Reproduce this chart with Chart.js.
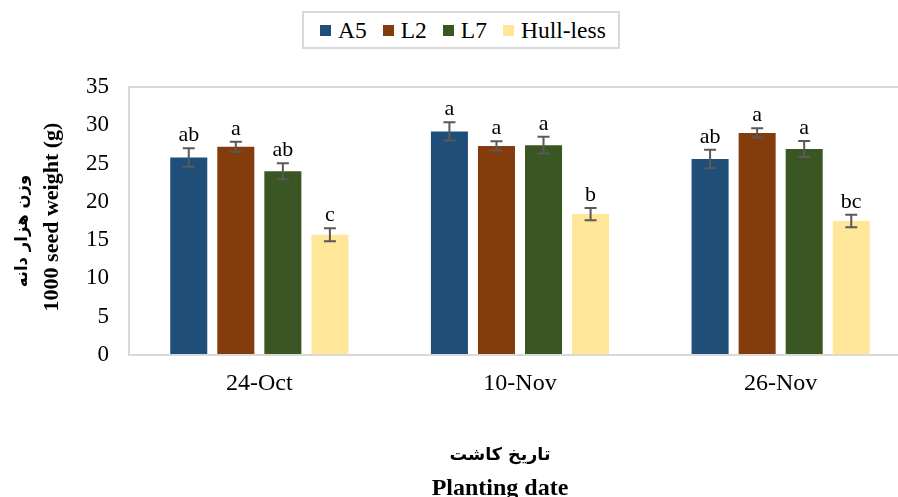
<!DOCTYPE html>
<html>
<head>
<meta charset="utf-8">
<script src="https://cdn.jsdelivr.net/npm/chart.js@4.4.1/dist/chart.umd.min.js"></script>
<style>
  html, body { margin: 0; padding: 0; background: #fff; overflow: hidden; }
  #wrap { position: relative; width: 898px; height: 497px; overflow: hidden; }
  canvas { display: block; }
  #legend {
    position: absolute; left: 302px; top: 11px; height: 38px; width: 318px;
    box-sizing: border-box; border: 2px solid #d9d9d9; background: #fff;
    display: flex; align-items: center; padding-left: 16px; white-space: nowrap;
    font-family: 'Liberation Serif', 'Times New Roman', serif; font-size: 23.5px; color: #000;
  }
  #legend .item { display: flex; align-items: center; margin-right: 16px; }
  #legend .item:last-child { margin-right: 0; }
  #legend .swatch { width: 11px; height: 11px; margin-right: 7px; flex: none; }
</style>
</head>
<body>
<div id="wrap">
  <canvas id="seedChart" width="911" height="497"></canvas>
  <div id="legend"></div>
</div>
<script>
// planting dates and 1000-seed weight (g) per cultivar
const categories = ['24-Oct', '10-Nov', '26-Nov'];
const yTicks = [0, 5, 10, 15, 20, 25, 30, 35];

const a5 = [25.8, 29.2, 25.6];
const l2 = [27.2, 27.3, 29.0];
const l7 = [24.0, 27.4, 26.9];
const hullLess = [15.7, 18.4, 17.5];

// standard errors
const a5Err = [1.2, 1.2, 1.2];
const l2Err = [0.65, 0.6, 0.6];
const l7Err = [1.05, 1.1, 1.05];
const hullLessErr = [0.85, 0.8, 0.8];

// mean comparison letters
const a5Letters = ['ab', 'a', 'ab'];
const l2Letters = ['a', 'a', 'a'];
const l7Letters = ['ab', 'a', 'a'];
const hullLessLetters = ['c', 'b', 'bc'];

const serif = "'Liberation Serif', 'Times New Roman', serif";

const series = [
    { label: 'A5', data: a5, err: a5Err, letters: a5Letters, color: '#1F4E79' },
    { label: 'L2', data: l2, err: l2Err, letters: l2Letters, color: '#843C0C' },
    { label: 'L7', data: l7, err: l7Err, letters: l7Letters, color: '#3A5623' },
    { label: 'Hull-less', data: hullLess, err: hullLessErr, letters: hullLessLetters, color: '#FFE699' }
];

// error bars and letters over each bar
const errorBars = {
    id: 'errorBars',
    afterDatasetsDraw(chart) {
        const ctx = chart.ctx;
        const y = chart.scales.y;
        ctx.save();
        chart.data.datasets.forEach((ds, i) => {
            const meta = chart.getDatasetMeta(i);
            meta.data.forEach((bar, j) => {
                const v = ds.data[j];
                const e = ds.err[j];
                const top = y.getPixelForValue(v + e);
                const bottom = y.getPixelForValue(v - e);
                ctx.strokeStyle = '#595959';
                ctx.lineWidth = 2;
                ctx.beginPath();
                ctx.moveTo(bar.x, top);
                ctx.lineTo(bar.x, bottom);
                ctx.moveTo(bar.x - 6, top);
                ctx.lineTo(bar.x + 6, top);
                ctx.moveTo(bar.x - 6, bottom);
                ctx.lineTo(bar.x + 6, bottom);
                ctx.stroke();

                ctx.fillStyle = '#000';
                ctx.font = '22px ' + serif;
                ctx.textAlign = 'center';
                ctx.textBaseline = 'alphabetic';
                ctx.fillText(ds.letters[j], bar.x, top - 7);
            });
        });
        ctx.restore();
    }
};

// two-line axis titles (Persian / English)
const axisTitles = {
    id: 'axisTitles',
    afterDraw(chart) {
        const ctx = chart.ctx;
        ctx.save();
        ctx.fillStyle = '#000';
        ctx.textAlign = 'center';
        ctx.textBaseline = 'middle';

        ctx.font = "bold 17.5px 'DejaVu Sans', sans-serif";
        ctx.fillText('تاریخ کاشت', 500, 455);
        ctx.font = 'bold 24px ' + serif;
        ctx.fillText('Planting date', 500, 489);

        ctx.translate(23, 231);
        ctx.rotate(-Math.PI / 2);
        ctx.font = "bold 16.5px 'DejaVu Sans', sans-serif";
        ctx.fillText('وزن هزار دانه', 0, 0);
        ctx.restore();

        ctx.save();
        ctx.fillStyle = '#000';
        ctx.textAlign = 'center';
        ctx.textBaseline = 'middle';
        ctx.translate(52, 217);
        ctx.rotate(-Math.PI / 2);
        ctx.font = 'bold 22px ' + serif;
        ctx.fillText('1000 seed weight (g)', 0, 0);
        ctx.restore();
    }
};

const chart = new Chart(document.getElementById('seedChart'), {
    type: 'bar',
    data: {
        labels: categories,
        datasets: series.map(s => ({
            label: s.label,
            data: s.data,
            err: s.err,
            letters: s.letters,
            backgroundColor: s.color,
            borderWidth: 0,
            categoryPercentage: 0.722,
            barPercentage: 0.787
        }))
    },
    options: {
        responsive: false,
        animation: false,
        layout: { padding: { left: 10, right: 0, top: 87, bottom: 0 } },
        plugins: {
            legend: { display: false },
            tooltip: { enabled: false }
        },
        scales: {
            x: {
                afterFit: (scale) => { scale.height = 142; },
                grid: { display: false, drawTicks: false },
                border: { display: true, color: '#d9d9d9', width: 2 },
                ticks: { color: '#000', padding: 14, font: { family: serif, size: 24 } }
            },
            y: {
                min: 0,
                max: 35,
                afterFit: (scale) => { scale.width = 119; },
                afterBuildTicks: (scale) => { scale.ticks = yTicks.map(v => ({ value: v })); },
                grid: {
                    drawTicks: false,
                    lineWidth: 2,
                    color: (c) => (c.tick && c.tick.value === 35 ? '#d9d9d9' : 'rgba(0,0,0,0)')
                },
                border: { display: true, color: '#d9d9d9', width: 2 },
                ticks: { color: '#000', padding: 20, font: { family: serif, size: 23 } }
            }
        }
    },
    plugins: [errorBars, axisTitles]
});

// legend built from the chart's datasets
const legendEl = document.getElementById('legend');
chart.data.datasets.forEach(ds => {
    const item = document.createElement('div');
    item.className = 'item';
    const sw = document.createElement('span');
    sw.className = 'swatch';
    sw.style.background = ds.backgroundColor;
    const txt = document.createElement('span');
    txt.textContent = ds.label;
    item.appendChild(sw);
    item.appendChild(txt);
    legendEl.appendChild(item);
});
</script>
</body>
</html>
